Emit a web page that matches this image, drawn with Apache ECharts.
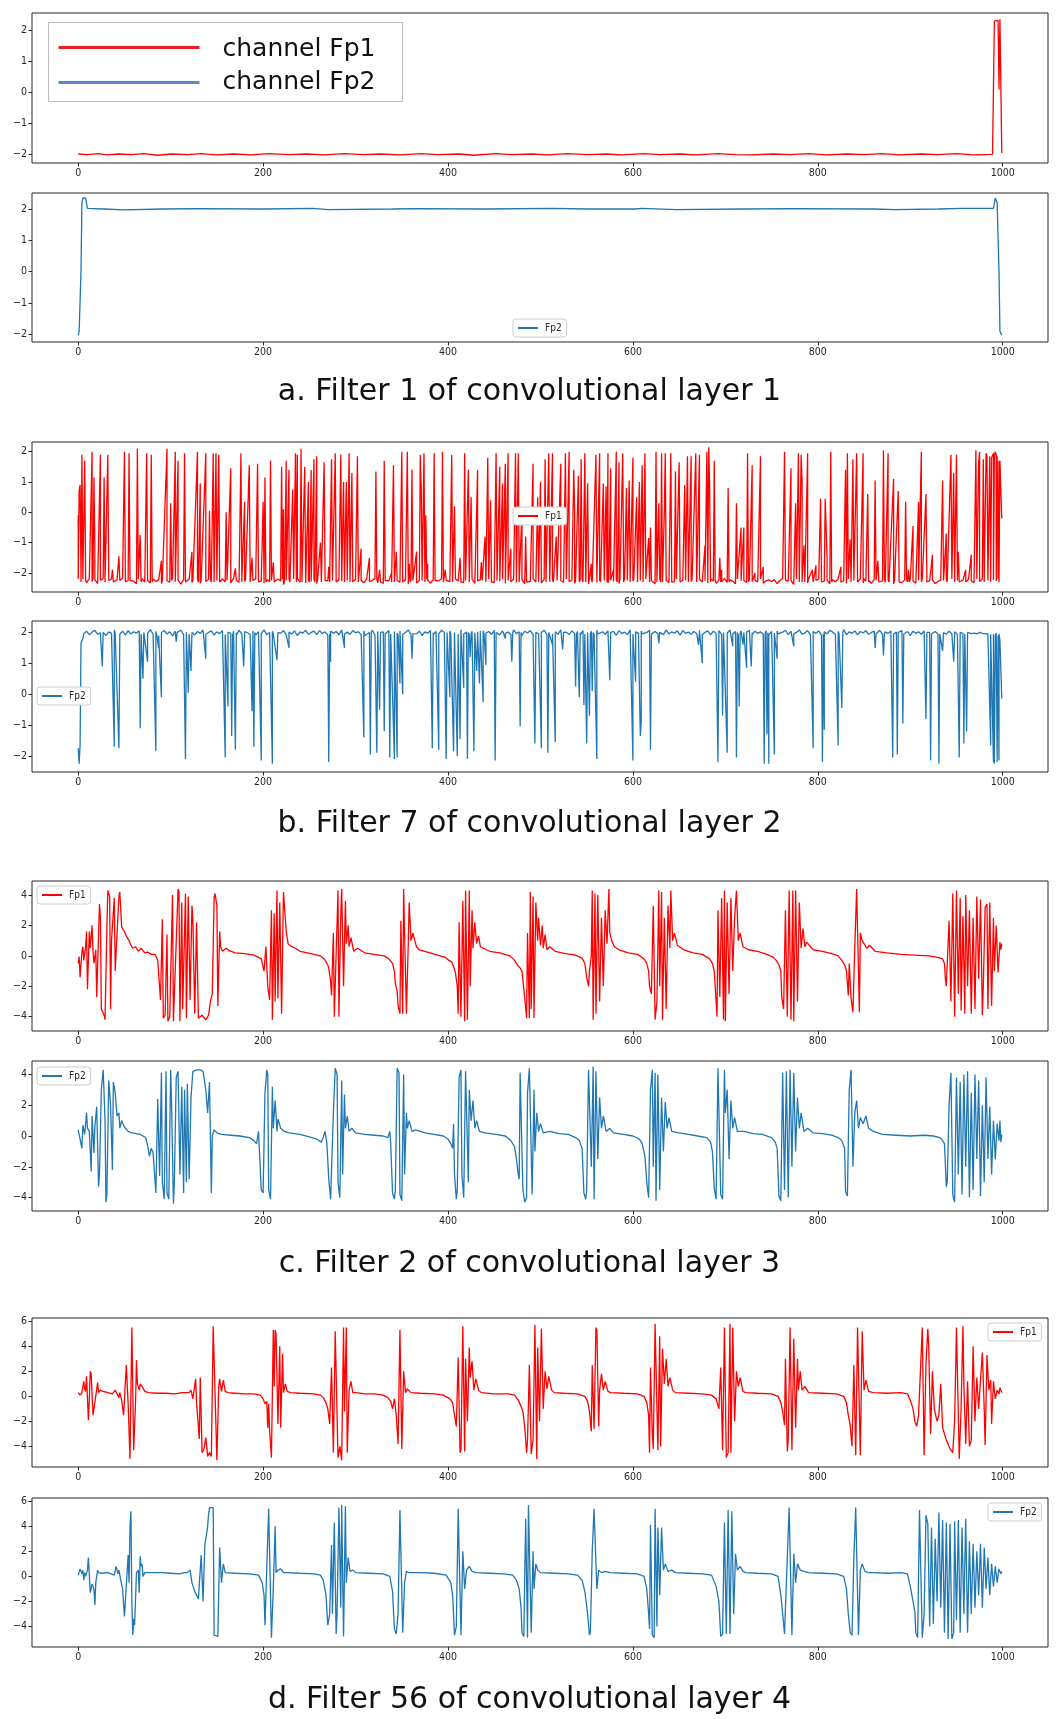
<!DOCTYPE html>
<html>
<head>
<meta charset="utf-8">
<title>Filters of convolutional layers</title>
<script src="https://cdn.jsdelivr.net/npm/echarts@6/dist/echarts.min.js"></script>
<style>
  html, body { margin: 0; padding: 0; background: #fff; }
  #chart { width: 1059px; height: 1719px; }
</style>
</head>
<body>
<div id="chart"></div>
<script>
// sample index ticks shared by every panel
const xTicks = [0, 200, 400, 600, 800, 1000];
const yTicks2 = [-2, -1, 0, 1, 2];
const yTicks4 = [-4, -2, 0, 2, 4];
const yTicks6 = [-4, -2, 0, 2, 4, 6];

const captions = [
  'a. Filter 1 of convolutional layer 1',
  'b. Filter 7 of convolutional layer 2',
  'c. Filter 2 of convolutional layer 3',
  'd. Filter 56 of convolutional layer 4'
];

// a. layer 1, filter 1  -- [sample, value]
const aFp1 = [[0,-1.98],[9,-2.0],[22,-1.97],[31,-2.01],[44,-1.98],[58,-2.0],[71,-1.97],[86,-2.02],[101,-1.98],[118,-2.0],[133,-1.97],[149,-2.01],[168,-1.98],[187,-2.01],[206,-1.97],[228,-2.0],[247,-1.98],[266,-2.01],[288,-1.97],[309,-2.0],[327,-1.98],[348,-2.01],[371,-1.97],[389,-2.0],[412,-1.98],[428,-2.02],[452,-1.97],[468,-2.0],[491,-1.98],[507,-2.01],[529,-1.97],[552,-2.0],[571,-1.98],[588,-2.01],[612,-1.97],[629,-2.0],[651,-1.98],[668,-2.01],[692,-1.97],[711,-2.0],[728,-2.01],[752,-1.98],[769,-2.0],[791,-1.97],[808,-2.01],[832,-1.98],[851,-2.0],[869,-1.97],[888,-2.01],[912,-1.98],[929,-2.0],[951,-1.97],[968,-2.01],[989,-1.99],[991,2.3],[993,2.36],[995,2.32],[996,0.1],[997,2.36],[998,2.35],[999,-1.95]];
const aFp2 = [[0,-2.02],[1,-1.9],[3,0.0],[4,2.2],[5,2.35],[8,2.35],[10,2.02],[28,2.0],[49,1.97],[50,2.02],[92,2.0],[127,2.01],[128,1.97],[129,2.02],[200,2.0],[254,2.02],[270,1.98],[271,2.02],[340,2.0],[365,2.01],[366,1.97],[367,2.02],[440,2.0],[512,2.02],[513,1.97],[514,2.02],[553,2.0],[554,1.96],[555,2.02],[602,2.0],[610,2.02],[647,1.98],[648,2.02],[720,2.0],[770,2.01],[771,1.97],[772,2.02],[860,2.0],[883,1.98],[884,2.02],[930,2.0],[955,2.02],[990,2.02],[992,2.35],[994,2.2],[996,0.0],[997,-1.9],[999,-2.02]];

// b. layer 2, filter 7 -- spikes, plus the noisy floor / ceiling read every 3 samples
const bFp1Peaks = [[0,-0.1],[1,0.7],[2,0.9],[3,-2.15],[4,1.9],[5,-2.2],[7,1.7],[8,-2.25],[15,2.0],[16,-2.2],[17,1.15],[18,-1.2],[19,-2.25],[24,1.9],[25,-2.25],[28,1.15],[29,-2.3],[32,1.9],[33,-2.25],[37,-1.9],[38,-2.3],[44,-1.45],[45,-2.25],[50,2.0],[51,-2.3],[55,1.95],[56,-2.25],[64,2.1],[65,-2.2],[67,-0.75],[68,-2.3],[74,1.95],[75,-2.25],[79,1.9],[80,-2.3],[90,-1.6],[91,-2.25],[96,2.1],[97,-2.3],[100,0.3],[101,-2.25],[105,2.0],[106,-2.3],[108,1.7],[109,-2.25],[115,1.95],[116,-2.3],[123,-1.3],[124,-2.25],[129,2.0],[130,-2.3],[132,0.95],[133,-2.25],[138,1.95],[139,-2.3],[142,0.05],[143,-2.2],[146,1.95],[147,-2.3],[149,1.95],[150,-2.25],[152,1.9],[153,-2.3],[160,0.0],[161,-2.25],[165,1.45],[166,-2.3],[170,-1.85],[171,-2.25],[176,1.95],[177,-2.3],[180,0.35],[181,-2.2],[185,1.55],[186,-2.3],[188,-1.5],[189,-2.25],[194,1.6],[195,-2.3],[200,0.35],[201,-2.2],[202,1.15],[203,-2.3],[208,1.7],[209,-2.25],[211,-1.65],[212,-2.3],[220,1.5],[221,-2.2],[222,0.1],[223,-2.3],[225,1.7],[226,-2.25],[228,1.4],[229,-2.3],[232,0.75],[233,-2.2],[235,1.95],[236,-2.3],[237,1.9],[238,-2.25],[241,2.1],[242,-2.3],[245,1.5],[246,-2.2],[249,1.0],[250,-2.3],[252,1.4],[253,-2.25],[255,1.75],[256,-2.3],[258,1.85],[259,-2.2],[262,-1.0],[263,-2.3],[266,1.65],[267,-2.25],[271,-1.8],[272,-2.3],[274,1.75],[275,-2.25],[278,1.95],[279,-2.3],[284,1.9],[285,-2.2],[287,1.0],[288,-2.3],[290,1.0],[291,-2.25],[293,1.95],[294,-2.3],[296,1.3],[297,-2.2],[302,1.85],[303,-2.3],[306,-1.2],[307,-2.25],[315,-1.5],[316,-2.3],[322,1.35],[323,-2.2],[326,-1.9],[327,-2.3],[331,1.7],[332,-2.25],[339,-2.0],[341,1.55],[342,-2.3],[344,-1.3],[345,-2.25],[350,2.0],[351,-2.3],[356,2.0],[357,-2.2],[358,-1.7],[359,-2.3],[361,1.4],[362,-2.25],[366,-1.3],[367,-2.3],[370,1.9],[371,0.8],[372,-2.25],[374,1.95],[375,-2.3],[376,-0.1],[377,-2.2],[378,-1.7],[379,-2.3],[385,1.95],[386,-2.25],[394,2.0],[395,-2.3],[397,-1.9],[398,-2.25],[404,1.9],[405,-2.3],[407,0.2],[408,-2.2],[413,-1.5],[414,-2.3],[418,1.95],[419,-2.25],[422,1.4],[423,-2.3],[425,0.5],[426,-2.2],[432,1.4],[433,-2.3],[436,-1.65],[437,-2.25],[440,-0.8],[441,-2.3],[443,1.8],[444,-2.2],[446,0.4],[447,-2.3],[452,1.95],[453,-2.25],[456,1.5],[457,-2.3],[459,0.95],[460,-2.2],[462,1.6],[463,-2.3],[465,1.95],[466,-2.25],[468,-1.2],[469,-2.3],[473,1.95],[474,-2.2],[476,1.95],[477,-2.3],[480,0.0],[481,-2.25],[484,-0.8],[485,-2.3],[492,1.6],[493,-2.2],[497,0.5],[498,-2.3],[500,1.0],[501,-2.25],[505,1.75],[506,-2.3],[509,1.95],[510,-2.2],[513,1.95],[514,-2.3],[517,-0.8],[518,-2.25],[522,1.6],[523,-2.3],[527,1.95],[528,-2.2],[531,2.0],[532,-2.3],[536,1.4],[537,0.0],[538,-2.25],[541,1.2],[542,-2.3],[544,1.75],[545,-2.2],[548,1.95],[549,-2.3],[551,0.95],[552,-2.25],[555,-1.7],[556,-2.3],[560,1.9],[561,-2.2],[564,1.95],[565,-2.3],[568,0.95],[569,-2.25],[571,0.85],[572,-2.3],[573,1.95],[574,-2.2],[576,1.45],[577,-2.3],[579,-1.9],[580,-2.25],[582,2.0],[583,-2.3],[585,1.65],[586,-2.2],[589,1.95],[590,-2.3],[593,0.8],[594,-2.25],[596,1.05],[597,-2.3],[600,1.8],[601,-2.2],[604,0.5],[605,-2.3],[607,1.0],[608,-2.25],[610,1.55],[611,-2.3],[613,1.95],[614,-2.2],[617,-0.85],[618,-2.3],[619,-0.5],[620,-2.25],[625,2.0],[626,-2.3],[628,0.3],[629,-2.2],[631,1.95],[632,-2.3],[634,0.05],[635,1.95],[636,-2.25],[641,1.95],[642,-2.3],[646,1.35],[647,-2.2],[650,1.65],[651,-2.3],[656,0.9],[657,-2.25],[659,1.85],[660,-2.3],[663,1.85],[664,-2.2],[668,1.95],[669,-2.3],[672,1.9],[673,-2.25],[678,-1.1],[679,-2.3],[680,2.0],[681,-2.2],[682,2.15],[683,0.85],[684,-2.3],[688,1.7],[689,-2.25],[694,-1.5],[695,-2.3],[696,-1.9],[697,-2.25],[703,0.8],[704,-2.3],[712,0.3],[713,-2.2],[717,-0.5],[718,-2.3],[720,-0.5],[721,-2.25],[724,1.95],[725,-2.3],[729,1.55],[730,-2.2],[732,-2.0],[733,-2.3],[738,1.85],[739,-2.25],[741,-1.8],[742,-2.3],[764,2.0],[765,-2.25],[771,1.45],[772,-2.3],[776,0.3],[777,-2.2],[779,1.95],[780,-2.3],[782,1.9],[783,1.0],[784,-2.25],[785,-1.1],[786,-2.3],[789,1.95],[790,-2.2],[794,-1.9],[795,-2.3],[798,-1.75],[799,-2.25],[803,0.45],[804,-2.3],[808,0.45],[810,-1.5],[811,-2.2],[814,2.0],[815,-2.3],[825,-1.8],[826,-2.3],[830,1.4],[831,-2.25],[832,1.95],[833,-2.2],[835,-0.9],[836,-2.3],[838,1.75],[839,-2.25],[842,1.95],[843,-2.3],[849,1.95],[850,-2.2],[854,0.6],[855,-2.3],[862,1.05],[863,-2.25],[865,-1.6],[866,-2.3],[871,2.05],[872,-2.2],[876,1.95],[877,-2.3],[882,1.1],[883,-2.25],[887,0.7],[888,-2.3],[895,0.35],[896,-2.2],[898,-1.9],[899,-2.3],[903,-0.45],[904,-2.25],[909,0.35],[910,-2.3],[912,2.0],[913,-2.2],[917,0.6],[918,-2.3],[924,-1.4],[925,-2.25],[935,1.05],[936,-2.25],[939,-0.7],[940,-2.3],[944,1.9],[945,-2.2],[947,1.3],[948,-2.3],[950,1.9],[951,-2.25],[952,-1.3],[953,-2.3],[960,-1.9],[961,-2.25],[966,-1.4],[967,-2.3],[971,2.05],[972,-2.2],[974,1.65],[975,2.0],[976,-2.25],[979,1.75],[980,-2.3],[982,1.95],[983,1.85],[985,-2.25],[986,1.85],[988,1.8],[989,1.85],[990,1.95],[991,1.85],[992,2.0],[993,1.9],[994,1.85],[995,-2.2],[996,1.7],[997,1.7],[998,1.65],[999,-0.2]];
// floor of the Fp1 trace, samples 0, 3, 6 ... 996
const bFp1Floor = [
  -2.2,-2.3,-2.25,-2.33,-2.18,-2.28,-2.22,-2.35,-2.24,-2.19, -2.31,-2.26,-2.2,-2.34,-2.23,-2.29,-2.17,-2.32,-2.25,-2.21,
  -2.27,-2.36,-2.22,-2.19,-2.3,-2.24,-2.33,-2.2,-2.28,-2.23, -2.35,-2.21,-2.26,-2.31,-2.18,-2.29,-2.24,-2.37,-2.22,-2.27,
  -2.2,-2.32,-2.25,-2.19,-2.34,-2.23,-2.28,-2.21,-2.3,-2.26, -2.24,-2.36,-2.2,-2.29,-2.22,-2.33,-2.18,-2.27,-2.31,-2.23,
  -2.28,-2.21,-2.35,-2.25,-2.19,-2.3,-2.26,-2.34,-2.22,-2.29, -2.23,-2.31,-2.2,-2.27,-2.38,-2.24,-2.21,-2.32,-2.26,-2.19,
  -2.3,-2.25,-2.33,-2.22,-2.28,-2.2,-2.35,-2.24,-2.29,-2.21, -2.26,-2.34,-2.19,-2.31,-2.23,-2.27,-2.36,-2.22,-2.25,-2.3,
  -2.21,-2.28,-2.24,-2.33,-2.2,-2.29,-2.25,-2.18,-2.32,-2.27, -2.35,-2.22,-2.26,-2.3,-2.24,-2.19,-2.31,-2.28,-2.23,-2.37,
  -2.2,-2.27,-2.33,-2.25,-2.21,-2.3,-2.24,-2.34,-2.22,-2.28, -2.26,-2.19,-2.32,-2.23,-2.29,-2.36,-2.21,-2.27,-2.25,-2.31,
  -2.24,-2.3,-2.2,-2.35,-2.26,-2.22,-2.28,-2.33,-2.19,-2.25, -2.31,-2.23,-2.27,-2.21,-2.34,-2.25,-2.29,-2.2,-2.32,-2.26,
  -2.22,-2.36,-2.24,-2.28,-2.19,-2.3,-2.25,-2.33,-2.21,-2.27, -2.29,-2.2,-2.35,-2.23,-2.26,-2.31,-2.18,-2.28,-2.24,-2.34,
  -2.25,-2.22,-2.3,-2.27,-2.37,-2.21,-2.26,-2.32,-2.23,-2.29, -2.2,-2.33,-2.24,-2.28,-2.22,-2.35,-2.26,-2.19,-2.31,-2.25,
  -2.27,-2.23,-2.3,-2.21,-2.34,-2.25,-2.28,-2.22,-2.36,-2.24, -2.3,-2.26,-2.2,-2.32,-2.25,-2.29,-2.23,-2.27,-2.24,-2.31,
  -2.22,-2.28,-2.25,-2.35,-2.21,-2.3,-2.26,-2.33,-2.2,-2.27, -2.34,-2.24,-2.29,-2.19,-2.31,-2.23,-2.27,-2.36,-2.22,-2.26,
  -2.25,-2.32,-2.21,-2.28,-2.24,-2.3,-2.2,-2.34,-2.26,-2.23, -2.29,-2.22,-2.35,-2.25,-2.19,-2.31,-2.27,-2.23,-2.38,-2.24,
  -2.21,-2.3,-2.26,-2.33,-2.22,-2.28,-2.25,-2.2,-2.32,-2.27, -2.24,-2.36,-2.23,-2.29,-2.2,-2.31,-2.26,-2.34,-2.22,-2.28,
  -2.3,-2.25,-2.19,-2.33,-2.27,-2.23,-2.35,-2.21,-2.29,-2.24, -2.26,-2.31,-2.22,-2.28,-2.36,-2.2,-2.25,-2.32,-2.23,-2.3,
  -2.21,-2.27,-2.34,-2.24,-2.29,-2.19,-2.31,-2.26,-2.22,-2.35, -2.28,-2.23,-2.3,-2.2,-2.33,-2.25,-2.27,-2.22,-2.36,-2.24,
  -2.3,-2.21,-2.26,-2.32,-2.24,-2.28,-2.2,-2.34,-2.25,-2.29, -2.23,-2.27,-2.31
];
const bFp2Spikes = [[0,-1.75],[1,-2.25],[2,-1.65],[3,1.65],[5,1.8],[8,1.95],[26,0.9],[27,2.0],[39,-1.7],[40,1.95],[44,-1.75],[45,1.95],[67,-1.1],[68,1.95],[70,0.5],[71,2.0],[75,1.05],[76,2.0],[84,-1.85],[85,1.9],[87,1.5],[88,1.95],[90,-0.1],[91,2.0],[106,1.7],[107,2.0],[116,-2.1],[117,1.9],[119,0.05],[120,1.95],[122,0.75],[123,2.0],[138,1.15],[139,2.0],[159,-2.05],[160,1.95],[162,-0.4],[163,2.0],[166,-1.35],[167,1.9],[170,-1.8],[171,2.0],[179,0.9],[180,1.95],[188,-0.55],[189,1.9],[190,-1.7],[191,2.0],[198,-2.15],[199,2.0],[210,-2.25],[211,1.95],[215,1.1],[216,2.0],[228,1.5],[229,2.0],[271,-2.2],[272,1.95],[273,1.05],[274,2.0],[288,1.5],[289,2.0],[309,-1.4],[310,1.9],[316,-1.95],[317,2.0],[323,-1.9],[324,1.95],[326,-0.5],[327,2.0],[331,-1.2],[332,1.95],[337,-2.05],[338,1.95],[342,-2.1],[343,2.0],[345,-2.05],[346,1.9],[348,0.35],[349,2.0],[351,0.0],[352,1.95],[361,1.15],[362,1.95],[383,-1.75],[384,2.0],[390,-1.8],[391,2.0],[398,-2.1],[399,2.0],[402,-0.1],[403,1.95],[406,-1.85],[407,2.0],[410,-2.0],[411,1.95],[413,-1.45],[414,2.0],[417,0.2],[418,1.95],[421,-2.1],[422,2.0],[424,1.2],[425,1.95],[428,-1.85],[429,2.0],[431,0.75],[432,1.95],[434,0.35],[435,2.05],[438,-0.25],[439,1.95],[441,0.95],[442,2.0],[451,-2.15],[452,2.0],[462,1.8],[463,2.0],[469,1.05],[470,2.0],[478,-1.05],[479,2.0],[494,-1.6],[495,2.0],[501,-1.75],[502,2.0],[508,-1.9],[509,2.0],[513,1.6],[514,1.95],[516,-1.55],[517,2.0],[524,1.45],[525,2.0],[538,0.25],[539,1.95],[542,-0.1],[543,2.0],[547,-0.35],[548,1.95],[550,-1.6],[551,2.0],[553,-0.7],[554,1.95],[556,0.1],[557,2.0],[561,-2.1],[562,1.95],[575,0.45],[576,2.0],[600,-2.15],[601,1.95],[603,0.4],[604,2.0],[608,-1.35],[609,-0.9],[610,1.95],[619,-1.8],[620,1.95],[628,1.65],[629,2.0],[671,1.6],[672,2.0],[675,1.0],[676,1.95],[692,-2.2],[693,1.95],[697,-0.7],[698,2.0],[702,-1.9],[703,1.95],[708,1.55],[709,1.95],[712,-2.05],[713,2.0],[715,-0.4],[716,1.95],[719,1.6],[720,2.0],[723,0.85],[724,1.95],[728,0.9],[729,2.0],[742,-2.25],[743,1.95],[745,-1.3],[746,2.0],[747,-2.25],[748,1.95],[753,-1.95],[754,2.0],[756,1.15],[757,1.95],[774,1.55],[775,2.0],[795,-1.75],[796,2.0],[805,-2.2],[806,1.95],[807,-1.15],[808,2.0],[822,-1.65],[823,1.95],[826,-0.45],[827,2.0],[862,1.5],[863,1.95],[871,1.25],[872,1.95],[881,-2.05],[882,1.95],[886,-1.95],[887,2.0],[892,-0.95],[893,1.95],[917,-0.8],[918,2.0],[922,-2.15],[923,1.95],[931,-2.25],[932,1.95],[935,1.4],[936,2.0],[947,1.05],[948,1.95],[953,-2.05],[954,2.0],[958,-1.6],[959,1.95],[961,-1.2],[962,2.0],[987,-1.65],[988,1.9],[990,-2.2],[991,-2.25],[992,1.9],[994,-2.2],[995,1.9],[996,-2.15],[997,1.75],[999,-0.15]];
// ceiling of the Fp2 trace, samples 6, 9, 12 ... 996
const bFp2Band = [
  1.96,2.04,1.92,2.01,2.07,1.94,1.99,2.05,1.9,2.02, 1.97,2.08,1.93,2.0,2.04,1.91,2.06,1.95,2.02,1.98,
  2.05,1.92,2.01,1.96,2.09,1.94,2.03,1.9,2.0,2.06, 1.95,2.02,1.89,2.04,1.98,2.07,1.93,2.01,1.96,2.05,
  1.92,2.03,1.97,2.08,1.94,2.0,2.05,1.91,2.02,1.96, 2.06,1.93,2.01,1.97,2.04,1.9,2.07,1.95,2.03,1.99,
  1.94,2.05,1.92,2.02,1.96,2.08,1.93,2.0,2.04,1.91, 2.03,1.97,2.06,1.92,2.01,1.95,2.05,1.9,2.02,1.98,
  2.07,1.94,2.0,2.04,1.93,2.06,1.96,2.02,1.91,2.05, 1.97,2.03,1.92,2.08,1.95,2.01,1.94,2.06,1.99,2.02,
  1.93,2.05,1.96,2.0,2.07,1.91,2.04,1.95,2.02,1.97, 2.06,1.92,2.03,1.98,2.05,1.94,2.0,2.08,1.93,2.01,
  1.96,2.04,1.9,2.02,1.97,2.06,1.93,2.03,1.95,2.07, 2.0,1.94,2.05,1.92,2.03,1.97,2.09,1.95,2.01,1.93,
  2.04,1.96,2.02,1.91,2.06,1.98,2.03,1.94,2.07,1.99, 1.92,2.05,1.97,2.01,1.94,2.08,1.96,2.02,1.9,2.04,
  1.98,2.06,1.93,2.03,1.95,2.0,2.07,1.92,2.04,1.96, 2.02,1.94,2.08,1.97,2.01,1.93,2.05,1.96,2.03,1.91,
  2.06,1.95,2.0,2.04,1.92,2.07,1.97,2.02,1.94,2.05, 1.99,2.03,1.91,2.06,1.96,2.01,1.93,2.08,1.95,2.02,
  1.97,2.05,1.94,2.0,2.07,1.92,2.03,1.96,2.04,1.93, 2.08,1.95,2.02,1.98,2.05,1.91,2.06,1.97,2.01,1.94,
  2.03,1.96,2.07,1.93,2.0,2.05,1.92,2.04,1.97,2.06, 1.94,2.02,1.98,2.08,1.95,2.03,1.9,2.05,1.96,2.01,
  2.07,1.93,2.04,1.97,2.02,1.94,2.06,1.92,2.03,1.98, 2.05,1.95,2.01,2.07,1.93,2.04,1.96,2.0,2.08,1.94,
  1.98,2.06,1.92,2.03,1.97,2.05,1.91,2.02,1.95,2.07, 2.01,1.94,2.04,1.96,2.09,1.93,2.02,1.97,2.05,1.92,
  2.03,1.98,2.06,1.94,2.0,2.04,1.95,2.07,1.93,2.02, 1.96,2.05,1.92,2.01,1.97,2.06,1.94,2.03,1.9,2.04,
  1.97,2.02,1.94,2.05,1.96,2.0,1.93,2.03,1.95,1.98, 2.01,1.94,2.04,1.96,2.02,1.93,2.0,1.97,1.95,2.02,
  1.96,1.98,1.95,2.0,1.97,1.95,1.96,1.94,1.95,1.97, 1.95
];

// c. layer 3, filter 2
const cFp1 = [[0,-0.5],[1,-0.05],[2,-1.4],[4,0.3],[5,0.6],[6,-0.3],[8,0.6],[9,1.6],[10,-2.2],[12,1.6],[13,0.5],[15,2.0],[16,0.3],[17,-0.5],[19,0.4],[20,-2.7],[23,3.4],[24,2.5],[25,-3.5],[28,-3.9],[29,-4.2],[31,1.8],[32,4.3],[34,3.9],[35,-3.5],[36,1.0],[39,3.8],[40,-1.0],[42,-0.9],[44,3.9],[45,4.2],[47,1.9],[48,2.0],[50,1.6],[52,1.3],[55,1.0],[57,0.7],[59,0.5],[62,0.6],[65,0.3],[68,0.5],[72,0.2],[75,0.25],[79,0.1],[81,0.0],[83,0.1],[85,-0.15],[86,-0.3],[88,-0.3],[89,-2.9],[91,2.4],[92,-4.1],[94,-3.9],[96,1.4],[97,-4.3],[99,-4.0],[102,4.0],[103,-4.3],[105,-4.4],[108,4.4],[109,4.2],[110,-4.3],[112,3.5],[113,-3.5],[116,4.1],[117,-4.1],[119,3.9],[121,-2.9],[123,3.3],[124,2.4],[126,-3.8],[128,2.2],[130,-4.1],[132,-4.2],[134,-3.9],[136,-4.0],[138,-4.2],[141,-3.9],[143,-3.0],[145,-2.5],[147,3.8],[148,4.1],[150,3.3],[151,-3.3],[153,1.6],[154,0.6],[156,0.3],[160,0.5],[163,0.35],[170,0.2],[180,0.15],[190,0.05],[195,-0.1],[198,-0.2],[199,-0.3],[201,-1.0],[203,0.6],[205,-2.0],[207,-2.9],[209,3.0],[210,-4.2],[212,2.8],[213,-3.0],[215,4.3],[216,-2.8],[218,3.5],[220,-3.8],[222,4.2],[224,4.3],[225,1.6],[227,0.8],[229,0.9],[231,0.6],[235,0.5],[240,0.3],[248,0.2],[255,0.1],[262,0.0],[266,-0.2],[268,-0.4],[270,-0.6],[271,-0.8],[273,-1.7],[274,-2.6],[276,1.5],[277,-4.0],[279,-3.9],[281,4.3],[282,-4.0],[284,2.7],[285,4.4],[287,-2.0],[289,3.6],[290,0.8],[292,2.0],[293,0.6],[295,1.2],[298,0.3],[302,0.5],[310,0.2],[320,0.1],[331,0.0],[336,-0.2],[340,-0.5],[342,-1.0],[343,-1.8],[345,-2.3],[346,-3.3],[348,-3.8],[349,2.3],[351,-3.8],[352,4.4],[354,4.3],[355,-3.8],[357,0.8],[358,3.5],[360,1.0],[362,1.5],[364,1.0],[366,0.6],[369,0.4],[375,0.3],[386,0.1],[397,-0.1],[401,-0.3],[404,-0.4],[406,-0.7],[408,-1.1],[410,-2.0],[411,-3.8],[412,2.2],[414,-4.0],[416,3.6],[418,-4.3],[419,4.3],[421,-4.2],[423,4.3],[424,-2.0],[426,3.0],[427,0.5],[429,2.2],[431,0.8],[433,1.3],[435,0.6],[438,0.5],[445,0.3],[456,0.2],[467,0.0],[472,-0.3],[475,-0.6],[478,-0.8],[480,-1.0],[481,-1.6],[483,-2.8],[485,-4.1],[486,1.5],[488,-4.1],[489,4.2],[490,-3.5],[492,3.9],[493,-4.1],[495,3.5],[497,1.0],[498,2.5],[500,0.7],[502,2.0],[503,0.5],[505,1.4],[507,0.4],[510,0.6],[516,0.3],[527,0.15],[538,0.05],[545,-0.15],[548,-0.5],[550,-1.4],[552,-2.0],[553,-1.0],[555,0.0],[556,4.3],[557,-4.2],[559,4.1],[560,-3.8],[562,4.0],[564,-3.0],[566,2.5],[568,-2.0],[570,3.0],[572,0.8],[574,4.4],[575,1.5],[577,1.0],[580,0.6],[585,0.4],[595,0.2],[605,0.1],[612,-0.2],[615,-0.5],[617,-1.0],[618,-2.0],[620,-2.5],[622,3.3],[624,-4.2],[626,-3.0],[628,4.3],[629,-2.0],[631,4.2],[632,-4.2],[634,2.5],[636,-3.5],[638,3.3],[640,0.5],[641,4.3],[643,1.0],[645,1.5],[648,0.7],[655,0.4],[665,0.2],[675,0.1],[683,-0.2],[686,-0.5],[688,-1.0],[689,-2.0],[691,-4.0],[692,3.0],[694,-2.7],[696,3.8],[698,-4.2],[699,4.3],[700,-4.3],[702,3.5],[704,-2.5],[706,3.8],[708,-1.0],[710,2.5],[712,4.3],[714,1.0],[716,1.5],[719,0.6],[725,0.4],[735,0.3],[745,0.1],[752,-0.1],[755,-0.3],[758,-0.6],[760,-1.0],[761,-2.7],[763,-3.5],[765,3.0],[767,-4.0],[769,4.3],[771,-4.2],[773,4.3],[774,-4.3],[776,4.3],[778,-3.0],[780,3.5],[782,0.5],[784,1.8],[786,0.6],[788,0.9],[795,0.4],[805,0.3],[815,0.15],[822,0.0],[826,-0.3],[829,-0.6],[831,-1.0],[833,-2.6],[834,-0.5],[836,-2.8],[838,-3.7],[840,0.5],[842,4.4],[843,4.3],[845,-3.7],[846,1.5],[848,1.0],[850,0.8],[853,0.5],[856,0.7],[862,0.3],[875,0.2],[890,0.1],[905,0.05],[920,0.0],[930,-0.1],[935,-0.2],[937,-0.5],[938,-1.5],[939,-2.0],[941,-1.9],[942,2.3],[944,-3.0],[946,4.1],[948,-4.0],[950,4.3],[952,-2.5],[954,3.8],[955,-3.6],[957,2.6],[959,-3.8],[960,4.0],[962,-2.0],[964,3.0],[966,-3.8],[968,2.5],[970,-3.5],[972,3.9],[974,-1.5],[976,3.7],[978,-3.9],[979,-2.0],[981,3.2],[983,3.4],[984,-3.5],[986,3.5],[988,-3.3],[990,2.5],[991,-1.0],[993,2.0],[995,-1.1],[997,0.9],[998,0.4],[999,0.8]];
const cFp2 = [[0,0.4],[1,0.45],[2,0.3],[4,-0.8],[5,0.7],[7,0.1],[9,1.5],[10,0.5],[12,0.3],[14,-2.3],[15,1.3],[17,-1.1],[18,0.6],[20,1.9],[22,-3.3],[23,-2.5],[25,3.0],[27,4.3],[29,1.0],[30,-4.3],[31,-3.8],[33,3.6],[35,2.0],[37,-2.2],[38,3.5],[40,2.8],[42,1.3],[44,1.5],[45,0.5],[47,1.0],[49,0.7],[51,0.5],[54,0.3],[58,0.2],[63,0.15],[67,0.1],[70,0.0],[73,-0.1],[75,-0.6],[77,-1.3],[79,-0.8],[81,-1.1],[84,-3.7],[86,2.4],[88,-2.6],[90,4.1],[91,-3.0],[93,-4.1],[95,4.2],[96,-3.7],[98,-4.1],[100,4.3],[101,2.0],[103,-4.4],[104,-3.0],[106,3.8],[108,4.2],[110,-2.5],[112,3.2],[114,-3.7],[115,3.0],[117,-3.0],[118,3.4],[120,-2.8],[122,2.5],[124,4.2],[126,4.3],[128,4.3],[130,4.3],[132,4.3],[135,4.2],[137,4.3],[138,3.0],[140,1.5],[142,3.5],[144,-3.7],[145,0.0],[147,0.4],[150,0.2],[155,0.1],[165,0.05],[175,0.0],[185,-0.1],[190,-0.3],[193,-0.5],[195,0.3],[196,0.4],[198,-3.5],[200,-3.7],[202,2.8],[204,4.3],[205,4.0],[206,-3.5],[208,-4.1],[210,3.2],[211,0.5],[213,2.3],[215,0.3],[216,1.1],[219,0.5],[223,0.3],[228,0.2],[240,0.1],[250,-0.05],[258,-0.2],[263,-0.4],[265,-0.1],[267,0.3],[269,-0.5],[271,-2.8],[273,-4.1],[275,-4.0],[276,1.5],[278,4.4],[280,4.0],[281,-3.0],[283,-4.0],[285,3.6],[286,-2.5],[288,2.7],[289,0.5],[291,1.3],[293,0.3],[296,0.5],[300,0.2],[310,0.1],[320,0.05],[330,0.0],[335,-0.1],[337,0.3],[338,-0.5],[340,-3.7],[342,-4.1],[343,-3.5],[345,4.4],[347,4.1],[348,-3.8],[350,-4.2],[352,4.0],[353,-2.5],[355,1.5],[356,0.5],[358,1.0],[361,0.3],[365,0.4],[375,0.2],[385,0.1],[395,0.0],[400,-0.2],[403,-0.5],[405,-0.8],[406,0.8],[407,-2.5],[409,-4.1],[410,-3.5],[412,3.8],[414,4.3],[415,-2.5],[417,-4.0],[419,4.2],[420,4.3],[422,-3.0],[423,3.0],[425,1.0],[427,2.3],[429,0.5],[431,1.0],[434,0.3],[440,0.2],[452,0.1],[462,0.0],[468,-0.3],[472,-0.7],[474,-1.5],[476,-2.5],[477,-2.8],[478,4.1],[480,4.0],[481,-3.5],[483,-4.3],[485,-4.0],[486,2.8],[488,4.4],[489,4.3],[491,-3.8],[493,3.0],[494,-1.0],[496,1.5],[498,0.3],[500,0.8],[503,0.2],[510,0.3],[520,0.15],[530,0.1],[538,-0.1],[542,-0.3],[545,-0.8],[547,-3.7],[549,-4.1],[550,-3.5],[552,4.3],[554,4.4],[555,-2.0],[557,4.5],[558,-4.1],[560,4.2],[562,-1.5],[564,2.5],[566,0.5],[568,1.3],[571,0.3],[575,0.5],[579,0.2],[590,0.1],[600,0.0],[607,-0.2],[610,-0.5],[613,-1.3],[615,-3.0],[617,-4.0],[619,3.0],[621,4.3],[622,-2.0],[624,4.1],[625,-4.2],[627,4.0],[629,-3.5],[631,2.5],[633,-1.0],[635,2.2],[637,0.5],[639,1.2],[642,0.3],[650,0.2],[660,0.1],[670,0.0],[680,-0.1],[684,-0.4],[686,-1.0],[688,-3.4],[690,-4.1],[692,4.4],[693,4.3],[695,-3.8],[697,-4.1],[699,4.3],[700,1.5],[702,3.0],[704,-1.5],[706,2.3],[708,0.5],[710,1.2],[713,0.3],[720,0.3],[730,0.15],[740,0.1],[750,-0.1],[754,-0.4],[756,-0.8],[758,-3.9],[760,-4.2],[762,4.1],[764,-3.5],[766,4.2],[768,-4.0],[770,4.3],[772,-2.0],[774,4.1],[776,-1.0],[778,2.5],[780,0.5],[782,1.5],[785,0.3],[789,0.5],[795,0.2],[805,0.15],[815,0.05],[822,-0.1],[826,-0.3],[829,-0.8],[830,-3.6],[832,-3.9],[834,3.0],[836,4.3],[838,-2.0],[840,1.5],[842,2.3],[844,0.5],[846,1.2],[849,0.8],[852,1.3],[855,0.5],[860,0.3],[870,0.1],[885,0.05],[900,0.0],[915,0.05],[925,0.0],[932,-0.1],[935,-0.3],[937,-0.5],[939,-3.3],[940,-3.0],[942,2.0],[944,4.1],[946,-3.8],[948,-4.3],[950,3.8],[952,-2.5],[954,3.5],[956,-3.8],[958,4.0],[960,-2.0],[962,4.2],[964,-4.0],[966,2.8],[968,-3.5],[970,4.0],[972,-1.5],[974,3.6],[976,-3.9],[978,2.0],[980,-3.0],[982,3.8],[984,-1.5],[986,1.9],[988,-2.5],[990,1.0],[992,-1.5],[994,0.8],[996,-0.3],[997,1.0],[998,-0.4],[999,0.1]];

// d. layer 4, filter 56
const dFp1 = [[0,0.3],[1,0.35],[2,0.1],[4,0.3],[6,1.2],[7,0.6],[8,0.4],[9,1.6],[11,-1.9],[12,-0.3],[13,2.0],[14,1.8],[16,-1.5],[17,-1.0],[19,-0.9],[21,1.1],[22,0.3],[24,0.5],[27,0.4],[32,0.3],[37,0.2],[40,0.5],[42,0.6],[44,-0.1],[45,0.3],[47,-0.3],[49,-1.5],[50,-0.3],[52,2.5],[54,-0.6],[56,-5.0],[58,5.5],[59,5.4],[60,-4.3],[62,-0.5],[63,2.9],[64,1.0],[66,0.5],[67,1.0],[69,0.8],[72,0.4],[76,0.3],[85,0.25],[95,0.25],[105,0.2],[112,0.3],[117,0.3],[120,0.3],[122,0.5],[124,-0.2],[127,1.4],[128,-0.5],[131,-3.4],[132,1.5],[134,-4.5],[136,-4.2],[138,-3.3],[140,-4.8],[142,-4.5],[144,-4.8],[146,5.6],[148,5.7],[150,-5.1],[152,0.8],[153,1.4],[155,0.4],[157,1.3],[159,0.4],[162,0.3],[170,0.25],[180,0.2],[190,0.2],[197,0.1],[200,-0.2],[202,-0.6],[204,-0.4],[205,-2.5],[206,-0.6],[207,-2.7],[209,-4.9],[211,5.3],[212,0.8],[213,5.3],[214,5.0],[216,-2.2],[218,4.0],[219,-2.5],[221,3.4],[222,0.3],[224,1.0],[226,0.4],[230,0.3],[240,0.25],[255,0.2],[262,0.1],[265,-0.1],[268,-0.5],[270,-1.0],[272,-2.2],[274,2.3],[276,-4.5],[278,5.2],[279,5.2],[281,-4.9],[283,-4.0],[285,-5.1],[287,5.5],[288,-1.2],[290,5.5],[291,-4.5],[293,0.5],[295,1.2],[297,0.3],[300,0.3],[310,0.2],[320,0.2],[330,0.1],[335,-0.1],[338,-0.4],[340,-1.0],[342,-0.2],[344,-1.5],[346,-3.8],[348,5.3],[349,5.3],[350,-4.2],[352,2.0],[354,0.3],[356,0.6],[360,0.3],[370,0.25],[385,0.2],[395,0.1],[402,-0.2],[405,-0.5],[407,-1.5],[409,-2.4],[411,3.1],[413,-4.5],[414,-4.3],[416,5.6],[418,-4.4],[419,3.0],[421,-2.0],[423,3.9],[424,1.5],[426,2.8],[428,0.5],[430,1.4],[433,0.5],[436,0.3],[450,0.2],[465,0.2],[472,0.1],[476,-0.3],[479,-0.8],[481,-1.2],[483,-2.5],[485,-4.5],[486,-3.5],[488,2.5],[490,-4.6],[492,-3.5],[494,5.7],[496,-5.0],[497,3.9],[499,-2.0],[501,5.4],[503,-1.0],[505,2.0],[507,0.6],[509,1.6],[512,0.5],[515,0.3],[525,0.25],[540,0.2],[548,0.0],[551,-0.4],[553,-1.2],[555,-2.8],[556,2.5],[558,-2.6],[560,5.5],[561,5.3],[563,-2.4],[564,0.5],[566,1.8],[568,0.5],[570,1.2],[573,0.4],[576,0.3],[590,0.25],[605,0.2],[612,0.0],[615,-0.5],[617,-1.5],[618,-4.5],[619,2.3],[621,-3.0],[622,-4.2],[624,5.8],[626,5.7],[627,-4.3],[629,4.8],[630,-4.0],[632,3.8],[634,1.0],[636,3.0],[638,0.8],[640,1.5],[643,0.5],[646,0.3],[660,0.25],[675,0.2],[685,0.1],[690,-0.2],[693,-1.0],[695,2.3],[697,-4.3],[699,5.5],[701,-4.9],[703,-4.5],[705,5.8],[706,-4.5],[708,5.5],[710,-2.0],[712,2.0],[714,0.8],[716,1.5],[719,0.4],[722,0.3],[735,0.25],[750,0.2],[757,0.0],[760,-0.5],[762,-1.2],[764,-2.3],[765,3.0],[767,-4.4],[768,-3.5],[770,5.5],[772,-4.3],[774,4.6],[776,-2.5],[778,3.0],[779,0.5],[781,2.0],[783,0.5],[786,0.8],[790,0.3],[805,0.25],[820,0.2],[828,0.0],[831,-0.5],[833,-1.5],[835,-2.3],[837,-4.0],[839,2.5],[841,-4.7],[843,5.5],[844,5.4],[846,-4.7],[848,5.2],[850,0.5],[852,1.3],[855,0.4],[860,0.3],[875,0.25],[890,0.3],[897,0.2],[900,-0.3],[903,-1.0],[905,-2.0],[907,-2.4],[909,-1.5],[911,2.0],[913,5.5],[915,-4.7],[917,2.6],[919,5.4],[920,4.0],[922,-3.0],[924,2.0],[926,-1.0],[929,-2.0],[931,-1.5],[933,1.0],[935,-2.5],[937,-3.0],[939,-3.5],[941,-3.8],[943,-4.2],[946,-4.5],[948,-2.0],[950,5.5],[951,5.4],[953,-5.0],[955,-1.0],[957,5.6],[958,1.0],[960,-3.8],[962,1.2],[964,-4.0],[966,-3.5],[968,4.0],[970,-2.0],[972,1.5],[974,-1.0],[976,1.3],[978,3.5],[980,-1.0],[981,-3.9],[983,3.3],[985,0.5],[987,1.3],[988,-2.2],[990,1.2],[992,-0.2],[994,0.5],[996,0.2],[997,0.7],[999,0.3]];
const dFp2 = [[0,0.1],[2,0.6],[4,0.2],[5,0.5],[6,-0.3],[7,0.3],[8,0.0],[10,0.5],[11,1.5],[13,-1.3],[14,-1.3],[15,-0.6],[17,-1.0],[18,-2.3],[19,-0.5],[21,0.5],[22,0.3],[26,0.25],[32,0.3],[39,0.1],[41,0.8],[43,0.2],[44,0.5],[46,-0.3],[48,-1.0],[50,-3.2],[51,-3.1],[53,0.5],[54,1.7],[55,-0.5],[56,4.0],[57,5.2],[58,-2.0],[59,-4.7],[60,-3.4],[61,-3.9],[62,-4.0],[63,0.3],[65,0.5],[66,-1.3],[67,1.6],[68,0.8],[69,1.0],[70,0.0],[72,0.3],[78,0.3],[90,0.3],[100,0.25],[110,0.2],[115,0.3],[118,0.3],[121,0.5],[123,-0.5],[126,-1.2],[130,-1.8],[133,1.7],[135,-2.0],[137,2.5],[140,4.0],[141,5.0],[142,5.5],[144,5.6],[146,5.5],[147,-4.7],[149,-4.8],[151,-4.8],[153,2.3],[155,-0.5],[157,1.0],[159,0.3],[170,0.25],[185,0.2],[195,0.1],[199,-0.5],[201,-1.5],[202,-3.9],[204,-4.0],[206,5.4],[207,5.3],[209,-4.9],[211,-1.0],[213,4.0],[214,0.3],[216,0.5],[219,0.6],[222,0.3],[226,0.3],[240,0.25],[255,0.2],[262,0.1],[265,-0.3],[268,-1.5],[270,-3.9],[272,-3.0],[274,2.5],[275,-3.0],[277,4.3],[279,-4.6],[280,-3.0],[282,5.5],[284,-2.5],[285,5.7],[287,-4.8],[289,5.6],[290,-0.5],[292,1.5],[294,0.4],[297,0.5],[300,0.3],[315,0.25],[330,0.2],[337,0.0],[340,-1.2],[342,-4.2],[344,-4.6],[346,-3.0],[348,5.3],[349,5.3],[351,-4.5],[353,-0.5],[355,0.4],[358,0.3],[370,0.3],[385,0.25],[398,0.1],[403,-0.5],[405,-1.5],[407,-4.7],[409,-4.0],[411,5.4],[412,5.3],[414,-4.7],[416,2.0],[418,-1.0],[420,0.5],[423,0.8],[426,0.4],[430,0.3],[445,0.25],[460,0.2],[470,0.1],[474,-0.3],[477,-1.0],[479,-2.5],[480,-4.5],[482,-4.8],[484,4.6],[486,-4.9],[487,5.7],[488,5.6],[490,-4.5],[492,2.0],[493,-1.0],[495,1.0],[497,0.5],[500,0.3],[515,0.25],[530,0.2],[540,0.1],[545,-0.3],[548,-1.2],[551,-3.0],[553,-4.7],[554,-4.5],[556,2.0],[558,5.4],[559,5.3],[561,-1.0],[563,0.5],[566,0.3],[570,0.4],[575,0.3],[590,0.25],[605,0.2],[612,0.0],[615,-1.0],[617,-3.0],[618,-4.2],[619,4.1],[621,-4.7],[623,-4.9],[624,5.4],[626,-4.0],[627,3.9],[629,-1.5],[631,3.9],[633,0.5],[635,1.0],[638,0.4],[642,0.5],[646,0.3],[660,0.25],[675,0.2],[685,0.1],[690,-0.8],[693,-2.0],[695,-4.8],[697,-4.6],[699,4.3],[701,-4.6],[703,5.3],[705,-4.6],[707,5.2],[709,-3.0],[711,1.8],[713,0.5],[716,0.8],[719,0.4],[722,0.3],[735,0.25],[750,0.2],[757,0.0],[760,-1.5],[762,-3.0],[764,-4.6],[765,-4.5],[767,1.5],[769,5.5],[770,5.4],[772,-4.7],[774,1.8],[776,-0.5],[778,1.0],[781,0.5],[785,0.4],[790,0.3],[805,0.25],[820,0.2],[828,0.0],[831,-1.0],[833,-3.0],[835,-4.5],[837,-4.7],[839,1.5],[841,5.5],[842,5.4],[844,-4.7],[846,0.5],[848,1.0],[851,0.4],[855,0.3],[860,0.3],[875,0.25],[890,0.3],[897,0.2],[900,-0.8],[903,-2.0],[905,-2.8],[906,-4.5],[908,-4.9],[910,5.3],[911,5.3],[913,-4.9],[915,-3.0],[917,4.9],[919,4.2],[921,-4.0],[923,3.9],[925,-3.8],[927,3.0],[929,-2.0],[931,5.1],[933,-2.5],[935,4.5],[937,-4.5],[939,4.3],[941,-5.0],[943,4.2],[945,-5.0],[947,-4.5],[948,4.4],[950,-3.5],[952,4.5],[954,-4.5],[956,3.9],[958,-3.0],[960,4.6],[962,-4.5],[964,2.8],[966,-3.0],[968,2.6],[970,-2.5],[972,2.0],[974,-1.5],[976,2.6],[978,-2.5],[980,2.3],[982,-1.0],[984,1.5],[986,-1.5],[988,1.0],[990,-0.8],[992,0.8],[994,-0.5],[996,0.6],[998,0.2],[999,0.4]];

// merge spike readings with the floor/ceiling readings, ordered by sample
function merged(points, levels, start) {
  const extra = levels.map((v, i) => [start + 3 * i, v]);
  return points.concat(extra).sort((a, b) => a[0] - b[0]);
}
const bFp1 = merged(bFp1Peaks, bFp1Floor, 0);
const bFp2 = merged(bFp2Spikes, bFp2Band, 6);

const RED = '#ff0000';
const BLUE = '#1f77b4';
const tickFont = '"Liberation Sans Narrow", "DejaVu Sans Condensed", "Liberation Sans", sans-serif';
const minus = v => (v < 0 ? '\u2212' + (-v) : String(v));

// one entry per subplot: data, colour, y-limits, y ticks, frame top/height in px
const panels = [
  { name: 'Fp1', data: aFp1, color: RED,  ymin: -2.27, ymax: 2.56, ticks: yTicks2, top: 13,  height: 150 },
  { name: 'Fp2', data: aFp2, color: BLUE, ymin: -2.24, ymax: 2.51, ticks: yTicks2, top: 193, height: 149 },
  { name: 'Fp1', data: bFp1, color: RED,  ymin: -2.63, ymax: 2.32, ticks: yTicks2, top: 442, height: 150 },
  { name: 'Fp2', data: bFp2, color: BLUE, ymin: -2.52, ymax: 2.37, ticks: yTicks2, top: 621, height: 151 },
  { name: 'Fp1', data: cFp1, color: RED,  ymin: -4.94, ymax: 4.92, ticks: yTicks4, top: 881, height: 150 },
  { name: 'Fp2', data: cFp2, color: BLUE, ymin: -4.87, ymax: 4.87, ticks: yTicks4, top: 1061, height: 150 },
  { name: 'Fp1', data: dFp1, color: RED,  ymin: -5.65, ymax: 6.27, ticks: yTicks6, top: 1318, height: 149 },
  { name: 'Fp2', data: dFp2, color: BLUE, ymin: -5.65, ymax: 6.27, ticks: yTicks6, top: 1498, height: 149 }
];

const chart = echarts.init(document.getElementById('chart'), null, { renderer: 'canvas' });

const grid = [], xAxis = [], yAxis = [], series = [];
panels.forEach((p, i) => {
  grid.push({ left: 32, width: 1016, top: p.top, height: p.height,
    show: true, borderColor: '#262626', borderWidth: 1, backgroundColor: '#fff' });
  xAxis.push({
    type: 'value', gridIndex: i, min: -50, max: 1049, position: 'bottom',
    axisLine: { show: false, onZero: false },
    splitLine: { show: false },
    axisTick: { show: true, length: 3.5, lineStyle: { color: '#262626' }, customValues: xTicks },
    axisLabel: { show: true, margin: 5, fontSize: 10.5, color: '#262626', fontFamily: tickFont,
      customValues: xTicks, formatter: minus }
  });
  yAxis.push({
    type: 'value', gridIndex: i, min: p.ymin, max: p.ymax, position: 'left',
    axisLine: { show: false, onZero: false },
    splitLine: { show: false },
    axisTick: { show: true, length: 3.5, lineStyle: { color: '#262626' }, customValues: p.ticks },
    axisLabel: { show: true, margin: 5, fontSize: 10.5, color: '#262626', fontFamily: tickFont,
      customValues: p.ticks, formatter: minus }
  });
  series.push({
    name: p.name, type: 'line', xAxisIndex: i, yAxisIndex: i,
    data: p.data, showSymbol: false, symbol: 'none', silent: true,
    color: p.color,
    lineStyle: { color: p.color, width: 1.3 },
    itemStyle: { color: p.color }
  });
});

// small matplotlib-style legends of panels 2..8
function smallLegend(name, left, top) {
  return {
    data: [name], left: left, top: top, orient: 'vertical',
    icon: 'rect', itemWidth: 20, itemHeight: 2,
    padding: [4, 5, 4, 5], backgroundColor: '#fff',
    borderColor: '#cccccc', borderWidth: 1, borderRadius: 3,
    selectedMode: false,
    textStyle: { fontSize: 10, color: '#262626', fontFamily: tickFont, padding: [0, 0, 0, 2] }
  };
}
const legend = [
  smallLegend('Fp2', 513, 319),
  smallLegend('Fp1', 513, 507),
  smallLegend('Fp2', 37, 687),
  smallLegend('Fp1', 37, 886),
  smallLegend('Fp2', 37, 1067),
  smallLegend('Fp1', 988, 1323),
  smallLegend('Fp2', 988, 1503)
];

const captionFont = '"DejaVu Sans", "Open Sans", sans-serif';
const captionY = [395, 827, 1267, 1703];
const graphic = captions.map((t, i) => ({
  type: 'text', left: 'center', top: captionY[i] - 18, silent: true,
  style: { text: t, font: '30px ' + captionFont, fill: '#111' }
}));

// big legend pasted on the first panel
graphic.push({
  type: 'group', left: 48, top: 22, silent: true,
  children: [
    { type: 'rect', shape: { x: 0, y: 0, width: 354, height: 79 },
      style: { fill: '#fff', stroke: '#bdbdbd', lineWidth: 1 } },
    { type: 'line', shape: { x1: 10, y1: 25, x2: 151, y2: 25 },
      style: { stroke: '#ee1c24', lineWidth: 3 } },
    { type: 'line', shape: { x1: 10, y1: 60, x2: 151, y2: 60 },
      style: { stroke: '#5b87c7', lineWidth: 3 } },
    { type: 'text', x: 174, y: 27,
      style: { text: 'channel Fp1', font: '25px ' + captionFont, fill: '#111', verticalAlign: 'middle' } },
    { type: 'text', x: 174, y: 60,
      style: { text: 'channel Fp2', font: '25px ' + captionFont, fill: '#111', verticalAlign: 'middle' } }
  ]
});

chart.setOption({
  animation: false,
  backgroundColor: '#fff',
  grid: grid,
  xAxis: xAxis,
  yAxis: yAxis,
  legend: legend,
  series: series,
  graphic: graphic
});
</script>
</body>
</html>
